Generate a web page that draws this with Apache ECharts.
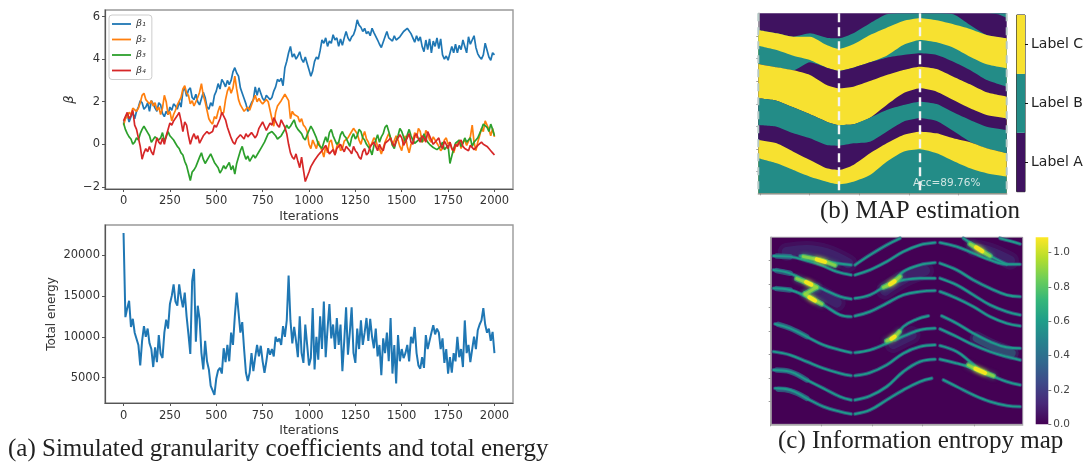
<!DOCTYPE html>
<html><head><meta charset="utf-8">
<style>html,body{margin:0;padding:0;background:#fff}#c{width:1088px;height:464px}#c canvas{filter:blur(0.45px)}</style>
<script src="https://cdn.jsdelivr.net/npm/echarts@6/dist/echarts.min.js"></script></head>
<body><div id="c"></div>
<script>
// ---- (a) traces, sampled every 10 iterations (beta values; energy in thousands)
const beta1=[1.0,1.25,1.4,1.05,1.3,1.5,1.2,1.55,1.75,2.05,1.95,1.65,1.75,1.95,1.55,2.05,1.9,1.7,1.55,1.95,
1.85,1.45,1.3,1.55,1.4,1.75,1.6,1.9,1.8,1.65,2.0,1.75,2.5,2.65,2.25,2.55,2.65,2.2,2.1,2.35,
2.0,1.85,1.8,2.45,2.2,1.75,1.65,1.95,1.8,2.3,2.5,2.85,2.6,3.05,2.9,2.7,3.0,2.8,3.0,3.4,
3.6,3.35,3.2,2.65,2.4,2.15,1.9,1.55,1.6,1.95,2.1,2.7,2.3,2.65,2.4,2.15,2.05,2.3,2.2,2.1,
2.2,2.5,2.7,3.05,2.95,3.1,2.75,3.6,3.9,4.3,4.6,4.1,4.25,4.0,4.15,4.35,4.0,3.85,4.1,3.8,
3.5,3.2,3.45,3.9,4.1,4.0,4.4,4.9,4.75,5.0,4.6,4.85,4.75,5.15,4.9,5.0,4.6,4.95,4.65,5.0,
5.3,5.0,4.85,5.05,5.15,5.4,5.85,5.6,5.5,5.3,5.45,5.2,5.3,5.1,5.45,5.25,5.2,4.9,4.7,4.55,
4.6,5.05,5.3,5.0,5.05,4.85,5.1,4.9,4.95,5.05,5.0,5.3,5.25,5.45,5.5,5.2,5.15,4.8,5.1,4.85,
5.05,4.6,4.35,4.9,4.45,4.95,4.3,4.85,4.6,5.0,4.5,4.95,4.2,4.0,4.15,3.95,4.0,4.6,4.3,4.7,
4.3,4.65,4.45,4.9,4.6,4.3,5.05,4.7,4.9,5.1,4.55,4.25,4.1,4.0,4.2,4.75,4.75,4.1,3.95,4.3,
4.2];
const beta2=[0.9,1.2,1.3,1.5,1.4,1.7,1.75,1.55,1.7,1.95,2.3,2.4,2.1,2.0,1.9,2.05,1.8,1.95,1.6,1.75,
1.4,1.7,2.3,2.0,1.4,1.55,1.1,1.4,1.6,1.85,1.9,2.2,2.6,2.75,2.4,2.3,1.9,2.05,1.8,2.0,
2.2,2.45,2.85,2.3,2.0,1.6,1.2,1.05,0.95,1.3,1.2,1.55,1.8,1.4,1.5,2.1,2.5,2.7,2.4,2.65,
3.2,2.6,2.1,1.85,1.7,1.55,1.5,1.75,1.6,1.85,2.1,2.3,2.0,2.15,2.0,1.9,2.0,2.1,2.0,1.6,
1.2,0.85,1.5,1.8,1.8,2.05,2.2,2.35,2.3,2.05,1.2,1.55,1.4,1.45,1.3,1.05,1.2,0.9,0.8,0.6,
0.0,-0.2,0.2,0.0,-0.2,0.15,-0.1,-0.3,-0.6,-0.1,-0.4,0.1,0.2,-0.2,-0.5,-0.1,0.1,-0.3,-0.2,0.15,
0.1,0.3,0.3,0.6,0.75,0.7,0.5,0.2,0.0,0.35,0.6,0.25,0.1,-0.15,-0.1,0.3,0.2,-0.1,-0.2,-0.45,
-0.4,0.1,0.1,0.5,0.3,-0.05,0.0,0.4,0.2,-0.1,-0.3,0.15,0.4,-0.1,-0.4,0.0,0.1,0.55,0.3,0.75,
0.6,0.1,0.2,0.65,0.5,0.2,0.1,0.35,0.3,0.05,-0.1,-0.3,-0.2,0.2,0.3,0.0,0.1,-0.2,-0.4,-0.1,
0.0,0.2,-0.2,0.1,0.2,-0.05,-0.1,0.35,0.9,0.1,-0.3,0.1,0.4,0.75,0.6,1.1,1.1,0.7,0.4,0.75,
0.35];
const beta3=[1.0,0.7,0.5,0.35,0.25,0.0,0.1,0.3,0.2,0.5,0.7,0.85,0.8,0.55,0.4,0.1,0.15,0.35,0.4,0.2,
0.3,0.55,0.15,0.35,0.6,0.4,0.4,0.2,0.05,-0.1,-0.2,-0.4,-0.5,-0.8,-1.0,-1.35,-1.7,-1.3,-1.2,-1.05,
-1.0,-0.6,-0.4,-0.7,-0.9,-0.75,-0.7,-0.45,-0.5,-0.85,-0.9,-1.1,-1.35,-1.2,-1.0,-1.15,-1.1,-0.85,-1.2,-1.0,
-1.4,-0.9,-0.6,-0.3,-0.1,-0.45,-0.7,-0.55,-0.8,-0.65,-0.5,-0.65,-0.6,-0.35,-0.2,-0.05,0.1,0.3,0.5,0.45,
0.6,0.5,0.4,0.25,0.2,0.4,0.35,0.7,0.9,0.75,0.85,1.0,1.15,0.85,0.7,0.75,0.5,0.3,0.2,0.45,
0.4,0.85,0.7,0.5,0.3,0.0,0.0,-0.2,0.1,0.35,0.1,0.55,0.7,0.4,0.35,0.0,0.1,0.45,0.6,0.4,
0.3,0.1,-0.1,0.3,0.5,0.25,0.4,0.7,0.6,0.3,0.2,0.0,0.05,-0.25,-0.5,-0.05,0.2,0.45,0.1,0.35,
0.5,0.8,0.9,0.6,0.3,-0.05,-0.2,0.15,0.4,0.75,0.6,0.35,0.1,0.45,0.7,0.4,0.2,0.05,0.0,0.2,
0.3,0.1,0.5,0.25,0.1,0.0,0.0,-0.15,-0.1,-0.25,-0.3,-0.1,0.1,-0.25,-0.2,-0.05,-0.9,-0.95,-0.2,0.05,
0.1,0.2,-0.1,0.05,0.3,0.1,0.2,0.3,-0.1,0.1,0.2,0.3,0.5,0.7,0.95,1.0,0.8,0.6,0.95,0.7,
0.4];
const beta4=[1.1,1.3,1.5,1.2,1.35,1.6,0.9,0.7,0.3,-0.1,-0.7,-0.4,-0.2,-0.35,-0.1,-0.35,-0.5,-0.1,0.3,0.1,
0.0,0.3,0.0,0.4,0.7,1.0,0.9,1.1,1.1,1.35,1.5,1.1,0.6,1.05,0.9,0.4,0.0,0.3,0.5,0.25,
0.4,0.05,0.1,0.4,0.4,0.6,0.5,0.45,0.6,0.9,0.8,1.0,1.2,1.5,1.5,1.15,0.8,0.55,0.3,0.1,
0.0,0.25,0.2,0.45,0.4,0.25,0.5,0.35,0.3,0.55,0.6,0.3,0.45,0.75,0.7,1.05,1.0,0.65,0.6,1.0,
0.9,1.25,1.2,0.9,0.8,1.15,1.2,0.8,0.5,0.0,-0.4,-0.6,-0.7,-0.45,-0.8,-1.1,-0.6,-1.2,-1.75,-1.75,
-1.3,-1.05,-1.0,-0.75,-0.7,-0.5,-0.4,-0.3,-0.3,-0.05,-0.1,-0.45,-0.4,-0.25,-0.5,-0.2,-0.1,0.0,-0.2,-0.35,
-0.1,-0.05,-0.3,-0.45,-0.1,-0.3,-0.4,-0.6,-0.7,-0.35,-0.2,-0.5,-0.4,-0.1,-0.1,0.1,-0.1,-0.3,0.0,-0.2,
-0.3,0.05,0.0,0.2,0.3,0.05,-0.1,0.15,0.2,0.45,0.3,-0.05,-0.1,0.3,0.5,0.1,0.0,0.4,0.5,0.25,
0.1,0.4,0.3,0.1,0.6,0.4,0.2,0.0,0.0,0.2,0.3,-0.05,-0.2,0.15,0.0,-0.2,0.1,-0.2,-0.3,0.0,
-0.1,0.1,0.2,-0.1,-0.2,-0.25,-0.3,-0.05,-0.1,-0.25,-0.2,-0.05,-0.1,0.1,0.0,0.05,-0.1,-0.2,-0.3,-0.4,
-0.5];
const energyK=[22.7,12.4,13.5,14.4,11.2,12.2,10.5,10.6,9.0,6.5,
9.5,11.3,10.0,11.0,9.2,8.5,6.3,8.7,6.9,10.2,
7.9,7.4,10.5,12.1,11.0,14.0,15.0,16.4,14.3,13.8,
16.4,14.8,13.6,15.4,12.5,10.3,7.9,16.8,18.3,9.4,
13.8,12.2,8.0,6.0,9.5,7.0,6.0,4.0,3.9,2.9,
4.9,5.9,6.2,5.5,8.6,6.9,9.0,7.0,10.5,9.0,
12.5,15.4,13.0,10.5,11.8,8.5,5.6,4.6,5.6,8.0,
5.8,7.5,9.0,7.6,8.9,7.0,5.6,7.0,8.6,7.8,
8.5,7.6,10.0,9.4,9.8,9.0,11.3,10.0,12.0,17.5,
12.0,9.2,11.2,9.5,7.5,12.5,8.0,6.8,11.5,9.0,
6.5,7.4,13.5,6.0,10.0,7.2,12.5,8.5,14.3,7.5,
11.0,14.0,9.8,11.5,8.5,12.3,9.0,11.5,5.8,9.5,
13.6,7.8,10.5,13.6,8.0,6.8,11.0,8.5,12.0,9.0,
10.5,12.3,9.5,12.2,10.0,8.6,11.0,7.6,9.0,5.3,
9.8,8.0,10.5,7.0,12.3,5.5,9.0,4.3,10.2,7.0,
8.5,7.4,8.0,9.0,7.0,10.0,9.2,11.2,8.0,6.5,
6.1,7.5,6.2,10.2,8.5,9.5,10.5,11.4,10.3,11.0,
10.5,8.5,9.8,6.8,8.5,5.5,7.5,5.6,8.0,7.0,
10.0,7.5,8.5,6.3,12.0,8.0,9.0,6.9,8.5,10.0,
8.5,10.8,11.5,12.0,13.5,11.5,10.5,11.0,9.5,10.6,
8.0];
const iterTicks=[0,250,500,750,1000,1250,1500,1750,2000];
const betaTicks=[-2,0,2,4,6];
const energyTicks=[5000,10000,15000,20000];
const betaNames=['β₁','β₂','β₃','β₄'];

// ---- (b) MAP label boundaries: row of each layer edge at each sampled column
const mapCols=[25,80,130,180,230,267,310,360,410,460,510,560,610,660,710,770];
const edge1=[75,85,95,85,98,100,85,55,28,25,25,25,28,60,90,100];
const edge2=[75,85,95,95,120,132,118,90,68,48,40,46,58,72,90,100];
const edge3=[122,135,152,165,188,197,188,172,152,120,105,112,128,155,178,190];
const edge4=[177,187,196,172,188,197,188,172,158,150,145,150,170,195,225,245];
const edge5=[177,187,196,210,240,250,245,228,210,195,185,192,215,238,262,275];
const edge6=[280,287,307,328,350,360,358,338,300,265,250,260,285,310,330,340];
const edge7=[280,287,307,328,350,360,358,338,315,300,290,297,322,345,365,375];
const edge8=[360,365,385,400,420,422,415,410,380,350,340,348,378,410,430,445];
const edge9=[405,415,440,465,490,495,480,445,415,390,380,385,400,412,430,445];
const edge10=[460,475,495,515,530,538,530,510,470,440,433,445,468,490,505,515];
const cornerEdge=[[715,25],[745,28],[770,38]];
const mapDashCols=[267,510];
const mapBandLabels=['Label A','Label B','Label C'];
const mapLeftTicks=[93,160,228,297,363,432,500];
const mapBottomTicks=[30,177,327,477,625];

// ---- (c) entropy ridges: [column,row] points
const ridges=[
[[70,78],[120,80],[170,92],[215,106],[260,125],[303,135]],
[[150,78],[215,92],[260,100],[303,105]],
[[315,105],[360,75],[410,45],[450,25]],
[[315,135],[360,120],[410,95],[460,65],[510,45],[555,38]],
[[570,38],[620,50],[670,70],[720,90],[770,103],[810,103]],
[[640,25],[670,45],[690,60],[720,78],[770,103]],
[[750,25],[780,33],[810,42]],
[[70,120],[120,130],[170,155],[220,178],[270,200],[303,207]],
[[315,205],[360,195],[410,165],[430,155],[460,125],[510,105],[555,98]],
[[570,100],[620,120],[670,150],[720,175],[770,195],[810,200]],
[[70,175],[120,180],[170,200],[220,225],[270,255],[303,260]],
[[315,258],[360,245],[410,220],[460,195],[510,185],[555,182]],
[[570,185],[620,205],[670,230],[720,260],[770,280],[810,288]],
[[430,158],[460,150],[510,145],[555,145]],
[[570,145],[620,165],[670,195],[720,225],[770,245],[810,255]],
[[75,282],[120,295],[170,320],[220,345],[270,360],[303,368]],
[[315,368],[360,360],[410,340],[435,325],[460,290],[500,268],[535,258]],
[[575,258],[620,280],[670,310],[720,335],[770,352],[810,355]],
[[435,330],[470,315],[510,300],[555,295]],
[[570,297],[620,320],[670,345],[720,365],[770,380],[810,390]],
[[70,365],[120,375],[170,395],[220,415],[270,430],[303,437]],
[[315,437],[360,428],[410,405],[460,370],[510,350],[555,345]],
[[570,347],[620,365],[660,395],[690,420]],
[[70,420],[120,425],[170,450],[220,475],[270,500],[303,510]],
[[315,510],[360,498],[410,470],[460,425],[510,395],[555,388]],
[[570,388],[620,400],[670,415],[720,435],[770,455],[810,465]],
[[75,475],[120,480],[170,505],[220,530],[270,545],[303,552]],
[[315,552],[360,540],[410,510],[460,480],[510,455],[545,445]],
[[580,450],[620,470],[670,495],[720,515],[770,527],[810,530]]
];
// wider stretches of the ridges, faint haze around uncertain regions, and the brighter spots
const ridgeWide=[[[85,283],[120,295],[170,320]],[[85,478],[120,482],[170,505]],[[80,122],[120,130]],[[80,176],[120,180]],[[80,420],[120,425],[170,450]],[[80,78],[120,80]]];
const hazeLow=[[[110,66],[170,60],[230,70],[295,100]],[[200,185],[260,218]],[[405,182],[470,142],[525,122]],[[430,342],[485,315]],[[675,55],[720,65],[780,92]]];
const hazeMid=[[[680,325],[730,350],[785,370]]];
const hotMid=[[[160,80],[215,92],[255,106]],[[140,146],[175,160],[200,172]],[[200,172],[165,192]],[[165,192],[185,205],[215,222]],[[400,172],[425,160],[450,140]],[[410,333],[430,323],[448,305]],[[655,405],[685,420],[730,438]],[[660,42],[690,60],[720,78]]];
const hotHigh=[[[200,88],[225,96]],[[168,156],[184,164]],[[178,202],[195,212]],[[420,163],[434,154]],[[424,327],[434,320]],[[676,416],[705,429]],[[678,52],[697,64]]];
const entropyTicks=[0,.2,.4,.6,.8,1.0];
const entropyMax=1.089;
const entLeftTicks=[92,163,233,303,373,445,515];
const entBottomTicks=[62,215,367,518,672];

const viridis=['#440154','#482878','#3e4989','#31688e','#26828e','#1f9e89','#35b779','#6ece58','#b5de2b','#fde725'];
const PURPLE='#3f1260',TEAL='#238c87',YELLOW='#f7e130';
const ser=[];
const pair=(vals,step,k)=>vals.map((v,i)=>[i*step,v*(k||1)]);
[[beta1,'#1f77b4'],[beta2,'#ff7f0e'],[beta3,'#2ca02c'],[beta4,'#d62728']].forEach(([d,c],i)=>ser.push({
  type:'line',name:betaNames[i],xAxisIndex:0,yAxisIndex:0,data:pair(d,10),symbol:'none',lineStyle:{color:c,width:1.7},itemStyle:{color:c}}));
ser.push({type:'line',xAxisIndex:1,yAxisIndex:1,data:pair(energyK,10,1000),symbol:'none',lineStyle:{color:'#1f77b4',width:2}});
[[edge1,TEAL],[edge2,YELLOW],[edge3,TEAL],[edge4,PURPLE],[edge5,YELLOW],[edge6,PURPLE],[edge7,TEAL],[edge8,PURPLE],[edge9,YELLOW],[edge10,TEAL]].forEach(([d,c])=>ser.push({
  type:'line',xAxisIndex:2,yAxisIndex:2,data:mapCols.map((x,i)=>[x,d[i]]),symbol:'none',smooth:.2,
  lineStyle:{width:0},areaStyle:{color:c,opacity:1,origin:'end'}}));
ser.push({type:'line',xAxisIndex:2,yAxisIndex:2,data:cornerEdge,symbol:'none',lineStyle:{width:0},areaStyle:{color:TEAL,opacity:1,origin:'start'}});
mapDashCols.forEach(x=>ser.push({type:'line',xAxisIndex:2,yAxisIndex:2,data:[[x,25],[x,565]],symbol:'none',lineStyle:{color:'#f4f4f4',width:2.4,type:[9,5]}}));
[25,770].forEach(x=>ser.push({type:'line',xAxisIndex:2,yAxisIndex:2,data:[[x,25],[x,565]],symbol:'none',lineStyle:{color:'#b5c9c6',width:2,type:[8,6]}}));
[[1,PURPLE],[1,TEAL],[1,YELLOW]].forEach(([v,c])=>ser.push({type:'bar',stack:'cb',xAxisIndex:3,yAxisIndex:3,data:[v],barWidth:'100%',itemStyle:{color:c}}));
const ent=(data,color,width,opacity,blur)=>ser.push({type:'line',xAxisIndex:4,yAxisIndex:4,data,symbol:'none',smooth:.4,lineStyle:{color,width,opacity,cap:'round',shadowBlur:blur||0,shadowColor:color}});
hazeLow.forEach(r=>{ent(r,'#3b528b',18,.18);ent(r,'#3b528b',10,.28);});
hazeMid.forEach(r=>{ent(r,'#26828e',14,.22);ent(r,'#21918c',8,.4);});
ridgeWide.forEach(r=>ent(r,'#26828e',5.5,.65));
ridges.forEach(r=>ent(r,'#2c728e',3.8,.65));
ridges.forEach(r=>ent(r,'#1f9a8a',1.9,1));
hotMid.forEach(r=>ent(r,'#35b779',5.5,.65,4));
hotMid.forEach(r=>ent(r,'#8fd744',3,.7,2));
hotHigh.forEach(r=>ent(r,'#f4e61e',4,1,4));
ser.push({type:'bar',xAxisIndex:5,yAxisIndex:5,data:[entropyMax],barWidth:'100%',itemStyle:{color:new echarts.graphic.LinearGradient(0,1,0,0,viridis.map((c,i)=>({offset:i/(viridis.length-1),color:c})))}});

const TXT='#333';
const hidden={show:false};
const frame=c=>({show:true,borderColor:c||'#999',borderWidth:1.4,backgroundColor:'transparent'});
const xTime=(idx)=>({type:'value',gridIndex:idx,min:-100,max:2100,splitLine:hidden,name:'Iterations',nameLocation:'middle',nameGap:21,
  nameTextStyle:{fontSize:12.5,color:TXT},axisLine:{onZero:false,lineStyle:{color:'#555',width:1.2}},axisTick:{customValues:iterTicks,length:3,lineStyle:{color:'#555'}},
  axisLabel:{customValues:iterTicks,fontSize:11.5,color:TXT,margin:idx==0?6:7,formatter:v=>String(v)}});
const tinyX=(idx,min,max,ticks)=>({type:'value',gridIndex:idx,min,max,splitLine:hidden,axisLine:{lineStyle:{color:'#aaa',width:1.5}},axisLabel:hidden,axisTick:{customValues:ticks,length:2,lineStyle:{color:'#999'}}});
const tinyY=(idx,min,max,ticks)=>({type:'value',gridIndex:idx,min,max,inverse:true,splitLine:hidden,axisLine:{lineStyle:{color:'#aaa',width:1.5}},axisLabel:hidden,axisTick:{customValues:ticks,length:2,lineStyle:{color:'#999'}}});
const chart=echarts.init(document.getElementById('c'));
chart.setOption({animation:false,backgroundColor:'#fff',textStyle:{fontFamily:'DejaVu Sans'},
 grid:[
  {left:105,top:10,width:408,height:179,...frame()},
  {left:105,top:225,width:408,height:178,...frame()},
  {left:758.3,top:13.3,width:248.4,height:180,show:true,borderWidth:0,backgroundColor:PURPLE},
  {left:1016.7,top:15,width:8.3,height:176.7,show:true,borderColor:'#111',borderWidth:1,backgroundColor:'transparent'},
  {left:770.7,top:237.3,width:252,height:187,show:true,borderColor:'#9a8fa0',borderWidth:1,backgroundColor:'#440154'},
  {left:1035.7,top:237.3,width:12.6,height:187,show:true,borderWidth:0,backgroundColor:'transparent'}
 ],
 xAxis:[xTime(0),xTime(1),tinyX(2,25,770,mapBottomTicks),
  {type:'category',gridIndex:3,data:['cb'],show:false},
  tinyX(4,62,818,entBottomTicks),
  {type:'category',gridIndex:5,data:['cb'],show:false}],
 yAxis:[
  {type:'value',gridIndex:0,min:-2.1,max:6.31,splitLine:hidden,name:'β',nameLocation:'middle',nameGap:29,nameTextStyle:{fontSize:13,fontStyle:'italic',color:TXT},
   axisLine:{show:true,onZero:false,lineStyle:{color:'#555',width:1.2}},axisTick:{show:true,customValues:betaTicks,length:3,lineStyle:{color:'#555'}},
   axisLabel:{customValues:betaTicks,fontSize:11.5,color:TXT,margin:5,formatter:v=>v<0?'−'+(-v):String(v)}},
  {type:'value',gridIndex:1,min:1900,max:23670,splitLine:hidden,name:'Total energy',nameLocation:'middle',nameGap:47,nameTextStyle:{fontSize:12,color:TXT},
   axisLine:{show:true,onZero:false,lineStyle:{color:'#555',width:1.2}},axisTick:{show:true,customValues:energyTicks,length:3,lineStyle:{color:'#555'}},
   axisLabel:{customValues:energyTicks,fontSize:11.5,color:TXT,margin:5,formatter:v=>String(v)}},
  tinyY(2,25,565,mapLeftTicks),
  {type:'value',gridIndex:3,min:0,max:3,position:'right',splitLine:hidden,axisLine:hidden,axisTick:{show:true,customValues:[.5,1.5,2.5],length:3,lineStyle:{color:'#111'}},
   axisLabel:{customValues:[.5,1.5,2.5],formatter:v=>mapBandLabels[Math.floor(v)],fontSize:14,color:'#222',margin:6}},
  tinyY(4,22,583,entLeftTicks),
  {type:'value',gridIndex:5,min:0,max:entropyMax,position:'right',splitLine:hidden,axisLine:hidden,axisTick:{show:true,customValues:entropyTicks,length:3,lineStyle:{color:'#777'}},
   axisLabel:{customValues:entropyTicks,formatter:v=>v.toFixed(1),fontSize:10.5,color:'#444',margin:5}}
 ],
 legend:{data:betaNames,orient:'vertical',left:109,top:15,icon:'rect',itemWidth:19,itemHeight:1.8,itemGap:5.5,padding:[4,6,4,3],backgroundColor:'#fff',borderColor:'#ccc',borderWidth:1,borderRadius:3,
  textStyle:{fontSize:9.5,fontStyle:'italic',color:'#333'}},
 graphic:[
  {type:'text',left:8,top:437,style:{text:'(a) Simulated granularity coefficients and total energy',font:'25px "Liberation Serif"',fill:'#222'}},
  {type:'text',left:820,top:199,style:{text:'(b) MAP estimation',font:'25px "Liberation Serif"',fill:'#222'}},
  {type:'text',left:778,top:429,style:{text:'(c) Information entropy map',font:'25px "Liberation Serif"',fill:'#222'}},
  {type:'text',left:913,top:178,z:50,style:{text:'Acc=89.76%',font:'10.5px "DejaVu Sans"',fill:'#cfe5e2'}}
 ],
 series:ser});
</script></body></html>
